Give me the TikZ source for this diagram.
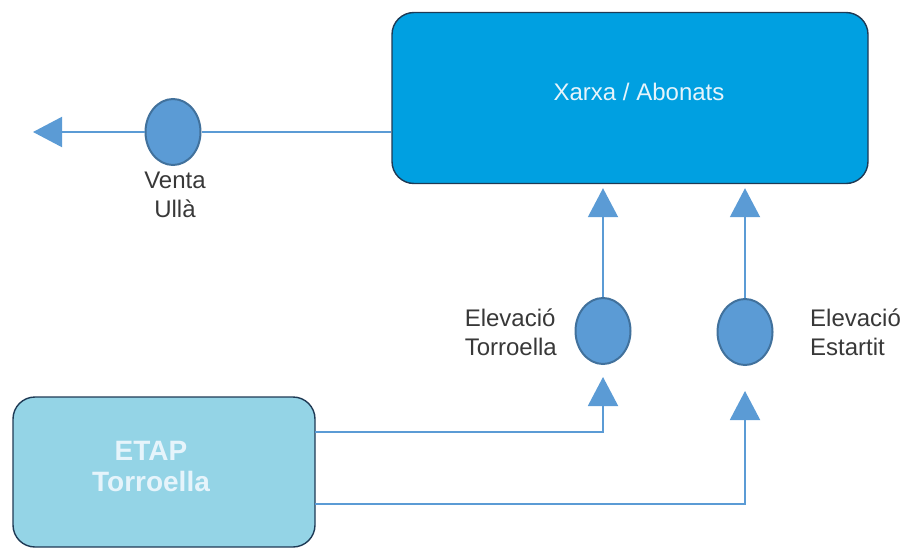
\documentclass[tikz,border=0pt]{standalone}
\usepackage{fontspec}
\setmainfont{Liberation Sans}
\usetikzlibrary{shapes.geometric,arrows.meta}
\definecolor{xarxafill}{HTML}{00A0E1}
\definecolor{etapfill}{HTML}{94D4E6}
\definecolor{boxdraw}{HTML}{1E3A55}
\definecolor{circfill}{HTML}{5B9BD5}
\definecolor{circdraw}{HTML}{41719C}
\definecolor{linecol}{HTML}{5B9BD5}
\definecolor{labelcol}{HTML}{383838}
\definecolor{boxtext}{HTML}{E6F4FB}
\tikzset{
  bigbox/.style={draw=boxdraw, line width=1.4pt, rounded corners=22pt, inner sep=0pt},
  station/.style={ellipse, draw=circdraw, line width=2pt, fill=circfill, minimum width=55pt, minimum height=66pt, inner sep=0pt},
  conn/.style={draw=linecol, line width=2pt},
  flow/.style={conn, -{Triangle[width=30pt,length=29pt]}},
  lbl/.style={text=labelcol, font=\fontsize{24}{29}\selectfont, inner sep=0pt},
}
\begin{document}
\begin{tikzpicture}[x=1pt,y=-1pt]
\useasboundingbox (0,0) rectangle (902,549);
% boxes
\node[bigbox, fill=xarxafill, minimum width=476pt, minimum height=171pt] (xarxa) at (630,98) {};
\node[text=boxtext, font=\fontsize{24}{29}\selectfont, inner sep=0pt] (xarxatxt) at (639,92) {Xarxa / Abonats};
\node[bigbox, fill=etapfill, minimum width=302pt, minimum height=150pt] (etap) at (164,472) {};
\node[text=boxtext, font=\bfseries\fontsize{28}{31}\selectfont, align=center, inner sep=0pt] (etaptxt) at (151,466) {ETAP\\Torroella};
% stations
\node[station] (venta) at (173,132) {};
\node[station] (elevT) at (603,331) {};
\node[station] (elevE) at (745,332) {};
% labels
\node[lbl, align=center, anchor=north] (ventalbl) at (175,172) {Venta\\Ullà};
\node[lbl, align=left, anchor=east] (elevTlbl) at (557,332) {Elevació\\Torroella};
\node[lbl, align=left, anchor=west] (elevElbl) at (810,332) {Elevació\\Estartit};
% connectors
\coordinate (vend) at (33,132);
\coordinate (t1) at (315,432);
\coordinate (t2) at (315,504);
\draw[conn] (venta -| xarxa.west) -- (venta.east);
\draw[flow] (venta.west) -- (vend);
\draw[flow, shorten >=4pt] (elevT.north) -- (elevT |- xarxa.south);
\draw[flow, shorten >=4pt] (elevE.north) -- (elevE |- xarxa.south);
\draw[flow, shorten >=12pt] (t1) -| (elevT.south);
\draw[flow, shorten >=25pt] (t2) -| (elevE.south);
\end{tikzpicture}
\end{document}
